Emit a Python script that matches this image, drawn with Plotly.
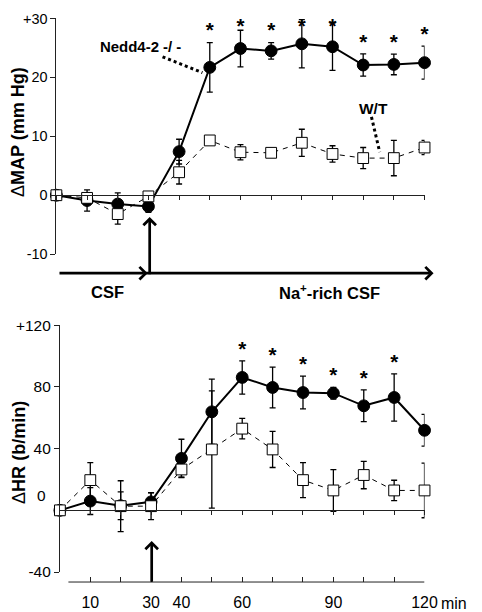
import plotly.graph_objects as go

# ---------------- data ----------------
minutes = [0, 10, 20, 30, 40, 50, 60, 70, 80, 90, 100, 110, 120]

nedd_map = [0, -0.9, -1.5, -1.9, 7.4, 21.7, 24.9, 24.5, 25.7, 25.2, 22.1, 22.2, 22.5]
nedd_map_se = [0, 1.8, 1.9, 1.0, 2.1, 4.2, 3.1, 1.4, 4.1, 4.0, 1.9, 1.75, 2.8]
wt_map = [0, -0.45, -3.2, -0.2, 3.9, 9.3, 7.3, 7.2, 8.9, 7.0, 6.3, 6.3, 8.1]
wt_map_se = [0, 0.4, 1.7, 0.5, 2.0, 0.4, 1.3, 0.6, 2.3, 1.4, 1.8, 3.0, 1.2]
map_sig = [False, False, False, False, False, True, True, True, True, True, True, True, True]

nedd_hr = [0, 6.0, 3.0, 5.5, 33.7, 63.9, 86.2, 79.7, 76.4, 76.0, 67.8, 73.2, 51.9]
nedd_hr_se = [0, 8.7, 9.0, 6.0, 12.4, 21.2, 10.8, 13.2, 10.6, 3.8, 10.3, 15.3, 10.3]
wt_hr = [0, 19.6, 2.7, 2.7, 26.5, 39.5, 53.0, 39.5, 19.6, 12.9, 22.9, 12.9, 12.9]
wt_hr_se = [0, 11.3, 16.5, 8.7, 5.0, 38.0, 6.6, 11.7, 11.4, 13.5, 8.9, 6.6, 17.7]
hr_sig = [False, False, False, False, False, False, True, True, True, True, True, True, False]

map_ticks = [-10, 0, 10, 20, 30]
map_ticktext = ["-10", "0", "10", "20", "+30"]
hr_ticks = [-40, 40, 80, 120]
hr_ticktext = ["-40", "40", "80", "+120"]
time_ticks = [10, 20, 30, 40, 50, 60, 70, 80, 90, 100, 110, 120]
time_ticktext = ["10", "", "30", "40", "", "60", "", "", "90", "", "", "120"]

# ---------------- layout helpers ----------------
# empirical placement of the figure in the photographed page
S = 0.97
K = 1 / S
OX, OY = 8, 16
W, H = 482, 622
FONT = "Liberation Sans, Arial, sans-serif"


def px(p):
    return (p * K - OX) / W


def py(p):
    return 1 - (p * K - OY) / H


def sz(v):
    return v * K


xdom_top = [px(56), px(423)]
xdom_bot = [px(59.5), px(423)]

fig = go.Figure()


def add_series(y, se, xa, ya, sym, size, dash, lw, fill):
    fig.add_trace(go.Scatter(
        x=minutes, y=y, xaxis=xa, yaxis=ya, mode="lines+markers",
        line=dict(color="black", width=lw, dash=dash),
        marker=dict(symbol=sym, size=size, color=fill,
                    line=dict(color="black", width=1)),
        error_y=dict(type="data", array=se, visible=True, color="black",
                     thickness=1.3, width=3),
        cliponaxis=False, showlegend=False, hoverinfo="skip"))


def add_stars(y, se, sig, xa, ya, cap):
    xs = [m for m, s in zip(minutes, sig) if s]
    ys = [min(v + e, cap) for v, e, s in zip(y, se, sig) if s]
    fig.add_trace(go.Scatter(
        x=xs, y=ys, xaxis=xa, yaxis=ya, mode="text", text=["*"] * len(xs),
        textposition="top center",
        textfont=dict(size=sz(20), color="black", family=FONT, weight="bold"),
        cliponaxis=False, showlegend=False, hoverinfo="skip"))


# top panel (MAP)
add_series(nedd_map, nedd_map_se, "x", "y", "circle", sz(11.5), "solid", 2, "black")
add_series(wt_map, wt_map_se, "x", "y", "square", sz(10.5), "5px,5px", 1, "white")
add_stars(nedd_map, nedd_map_se, map_sig, "x", "y", 26.6)

# bottom panel (HR)
add_series(nedd_hr, nedd_hr_se, "x2", "y2", "circle", sz(11.5), "solid", 2, "black")
add_series(wt_hr, wt_hr_se, "x2", "y2", "square", sz(10.5), "5px,5px", 1, "white")
add_stars(nedd_hr, nedd_hr_se, hr_sig, "x2", "y2", 200)
fig.add_trace(go.Scatter(x=[], y=[], xaxis="x3", yaxis="y2", showlegend=False))

axis_common = dict(showgrid=False, zeroline=False, linecolor="#222", linewidth=1,
                   tickcolor="#222", tickwidth=1)

fig.update_layout(
    width=W, height=H, margin=dict(l=0, r=0, t=0, b=0),
    paper_bgcolor="white", plot_bgcolor="rgba(0,0,0,0)",
    font=dict(family=FONT, color="black", size=14),
    xaxis=dict(domain=xdom_top, range=[0, 120], anchor="free", position=py(193),
               side="bottom", showline=True, ticks="outside", ticklen=4,
               tickvals=[0] + time_ticks, showticklabels=False, **axis_common),
    yaxis=dict(domain=[py(252), py(17)], range=[-10, 30], anchor="x",
               showline=True, ticks="outside", ticklen=5,
               tickvals=map_ticks, ticktext=map_ticktext,
               tickfont=dict(size=sz(14)), **axis_common),
    xaxis2=dict(domain=xdom_bot, range=[0, 120], anchor="free", position=py(507.5),
                side="bottom", showline=True, ticks="outside", ticklen=4,
                tickvals=[0] + time_ticks, showticklabels=False, **axis_common),
    yaxis2=dict(domain=[py(569), py(323)], range=[-40, 120], anchor="x2",
                showline=True, ticks="outside", ticklen=5,
                tickvals=hr_ticks, ticktext=hr_ticktext,
                tickfont=dict(size=sz(15)), **axis_common),
    xaxis3=dict(domain=xdom_bot, range=[0, 120], overlaying="x2", anchor="free",
                position=py(579), side="bottom", showline=False, ticks="inside",
                ticklen=5, tickvals=time_ticks, ticktext=time_ticktext,
                tickfont=dict(size=sz(15.5)), ticklabelstandoff=9, **axis_common),
)

shapes = []
# bottom time axis line
shapes.append(dict(type="line", xref="x2", yref="paper", x0=2.8, x1=120,
                   y0=py(579), y1=py(579), line=dict(color="#222", width=1)))
# dotted leader lines
shapes.append(dict(type="line", xref="x", yref="y", x0=34.6, y0=23.5, x1=47.6, y1=20.8,
                   line=dict(color="black", width=3, dash="dot")))
shapes.append(dict(type="line", xref="x", yref="y", x0=102.7, y0=13.3, x1=105.4, y1=7.3,
                   line=dict(color="black", width=3, dash="dot")))
fig.update_layout(shapes=shapes)

ann = []


def arrow(x0, y0, x1, y1):
    ann.append(dict(xref="paper", yref="paper", x=px(x1), y=py(y1),
                    ax=(x0 - x1) * K, ay=(y0 - y1) * K, axref="pixel", ayref="pixel",
                    text="", showarrow=True, arrowhead=4, arrowsize=0.9,
                    arrowwidth=2.7, arrowcolor="black", standoff=0))


arrow(60, 271, 147, 271)
arrow(150, 271, 432, 271)
arrow(149, 272, 149, 215)
arrow(151, 579, 151, 538)


def label(x, y, text, size, weight="bold", xref="paper", yref="paper", **kw):
    d = dict(xref=xref, yref=yref, x=x, y=y, text=text, showarrow=False,
             xanchor="center", yanchor="middle",
             font=dict(family=FONT, color="black", size=sz(size), weight=weight))
    d.update(kw)
    ann.append(d)


label(px(107), py(290), "CSF", 16)
label(px(328), py(290), "Na<sup>+</sup>-rich CSF", 16)
label(27.5, 25.2, "Nedd4-2 -/ -", 14.5, xref="x", yref="y")
label(103.3, 14.7, "W/T", 15, xref="x", yref="y")
label(px(452), py(600), "min", 15.5, weight="normal")
label(px(48), 9.5, "0", 15, weight="normal", yref="y2", xanchor="right")
label(px(18), py(130), "<span style='font-weight:normal'>\u0394</span>MAP (mm Hg)",
      17.5, textangle=-90)
label(px(18), py(450), "<span style='font-weight:normal'>\u0394</span>HR (b/min)",
      17.5, textangle=-90)
fig.update_layout(annotations=ann)

fig.write_html("out.html")
